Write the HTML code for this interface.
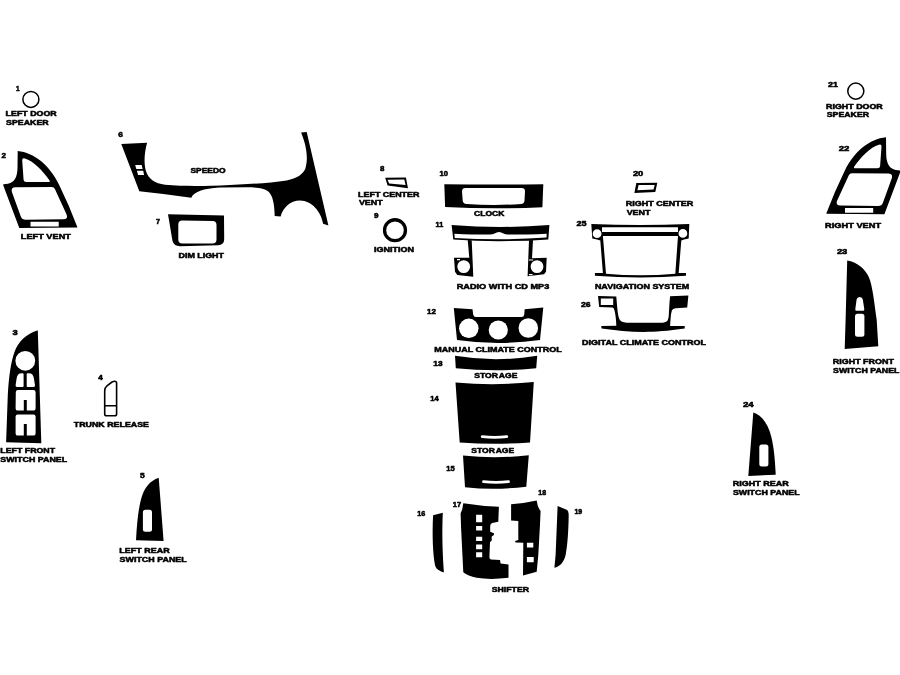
<!DOCTYPE html>
<html><head><meta charset="utf-8"><title>Dash Kit Diagram</title>
<style>
html,body{margin:0;padding:0;background:#fff;}
body{width:900px;height:675px;overflow:hidden;}
svg{display:block;will-change:transform;}
text{font-family:"Liberation Sans",sans-serif;font-weight:bold;fill:#000;stroke:#000;stroke-linejoin:round;}
.t{font-size:7.1px;stroke-width:0.5px;}
.n{font-size:8.1px;stroke-width:0.6px;}
.k{fill:#000;}
.w{fill:#fff;}
.o{fill:none;stroke:#000;}
</style></head><body>
<svg width="900" height="675" viewBox="0 0 900 675">
<rect width="900" height="675" fill="#fff"/>
<!-- 1 / 21 speakers -->
<circle cx="30.9" cy="99.4" r="8.0" class="o" stroke-width="1.5"/>
<circle cx="855.8" cy="91.1" r="8.05" class="o" stroke-width="1.5"/>

<!-- 2 left vent -->
<g id="vent">
<path class="k" fill-rule="evenodd" d="M17.7,151 C34,152.5 49.5,165 59.2,185 Q69,205 77.3,227 L77.3,227.5 L19.3,228 L3.3,185.5 L3.3,184.3 L8,183.7 Q17.3,182 17.5,168 L17.7,151 Z
M22.2,160.3 Q22.2,157.6 24.8,158.5 C33.5,161 42.5,170.5 49.6,180.5 Q50.4,182 48,182 L26.3,182 Q23.8,182 23.6,180 Z
M15.5,187.3 L51.8,187 Q54,187 55,189.2 L66.6,214.4 Q68.2,219 63.6,219.2 L25.6,219.7 Q22,219.7 20.8,216.5 L11.9,192 Q10.6,187.3 15.5,187.3 Z
M30.5,221.7 L58.7,221.7 L58.7,226.5 L30.5,226.5 Z"/>
</g>
<!-- 22 right vent (mirror) -->
<path class="k" transform="translate(903.7,-13.7) scale(-1,1)" fill-rule="evenodd" d="M17.7,151 C34,152.5 49.5,165 59.2,185 Q69,205 77.3,227 L77.3,227.5 L19.3,228 L3.3,185.5 L3.3,184.3 L8,183.7 Q17.3,182 17.5,168 L17.7,151 Z
M22.2,160.3 Q22.2,157.6 24.8,158.5 C33.5,161 42.5,170.5 49.6,180.5 Q50.4,182 48,182 L26.3,182 Q23.8,182 23.6,180 Z
M15.5,187.3 L51.8,187 Q54,187 55,189.2 L66.6,214.4 Q68.2,219 63.6,219.2 L25.6,219.7 Q22,219.7 20.8,216.5 L11.9,192 Q10.6,187.3 15.5,187.3 Z
M30.5,221.7 L58.7,221.7 L58.7,226.5 L30.5,226.5 Z"/>

<!-- 6 speedo -->
<path class="k" d="M121.3,144 L147.1,142.7 C144.5,152 143.5,163 146,171.3 C148.5,179 155,183.5 165,184.8 C185,186.5 205,186.2 230,185 C250,184.3 270,182.8 286.7,180.4 C297,178.5 303,174 305.3,168.7 C308,160 307.5,148 301.1,132.4 L306.7,132 L328.4,225.4 L323.1,223.7 C321,212 312,200.6 300,200.6 C290,200.6 283,208 280.6,216.6 L274.7,216.1 C274.5,205 273,195 268,191.3 C264,188.3 258,187.5 246.7,187.3 L220,187.6 C203,188.5 194,192 191.3,197.7 L163.3,194 L139.3,191.3 Z"/>
<path class="w" d="M135.2,165 L141.7,165 L142.6,169 L136.3,169 Z M136.9,170.8 L143.2,170.8 L144.1,175 L138.1,175 Z"/>

<!-- 7 dim light -->
<path class="k" fill-rule="evenodd" d="M168,214.2 L224,215.5 L224.2,239 Q224.2,245 218,245.3 L180,246.2 Q174,246.2 172.5,241 Z
M182.3,220.5 L212.5,221 Q216.5,221 216.5,225 L216.5,239.5 Q216.5,243.5 212.5,243.5 L182.3,243.5 Q178.3,243.5 178.3,239.5 L178.3,224.5 Q178.3,220.5 182.3,220.5 Z"/>

<!-- 3 left front switch panel -->
<path class="k" fill-rule="evenodd" d="M37.2,330.6 L37.8,330.6 L39.8,395 L41.3,443.3 L6.1,442.2 L7.8,395 C9,375 11,362 14.4,352.2 C18,342 26,334 37.2,330.6 Z
M35.2,360.8 A9.9,9.9 0 1 0 15.4,360.8 A9.9,9.9 0 1 0 35.2,360.8 Z
M17,387 Q15.4,387 15.6,385.3 L16.6,378.5 Q17.3,373.2 21.5,373.2 L22.6,373.2 Q23.6,373.2 23.6,374.2 L23.6,386 Q23.6,387 22.6,387 Z
M27.7,373.2 L29,373.2 Q33.2,373.2 33.9,378.5 L35,385.3 Q35.2,387 33.6,387 L27.7,387 Q26.7,387 26.7,386 L26.7,374.2 Q26.7,373.2 27.7,373.2 Z
M18,390.1 L33.4,390.1 Q35.6,390.1 35.6,392.3 L35.6,408.4 Q35.6,410.6 33.4,410.6 L26.8,410.6 L26.8,400 L23.8,400 L23.8,410.6 L17.8,410.6 Q15.6,410.6 15.6,408.4 L15.8,392.3 Q15.8,390.1 18,390.1 Z
M17.8,414.4 L33.4,414.4 Q35.6,414.4 35.6,416.6 L35.6,433.4 Q35.6,435.6 33.4,435.6 L26.8,435.6 L26.8,424 L23.8,424 L23.8,435.6 L17.8,435.6 Q15.6,435.6 15.6,433.4 L15.6,416.6 Q15.6,414.4 17.8,414.4 Z"/>

<!-- 4 trunk release -->
<path class="o" stroke-width="1.6" stroke-linejoin="round" d="M104.7,414 L104.7,391 Q104.7,387.5 107,385.8 L112,382 Q113.5,381.2 114.6,381.2 Q116.6,381.2 116.6,383.2 L116.6,414 Q116.6,415.8 114.8,415.8 L106.5,415.8 Q104.7,415.8 104.7,414 Z M104.7,405.8 L116.6,405.8"/>

<!-- 5 left rear switch panel -->
<path class="k" d="M158.7,477.7 L163.6,541 L136,540.3 C137,520 139,505 142,496 C145,487 150,481 158.7,477.7 Z"/>
<rect class="w" x="142.9" y="509.7" width="9.1" height="22" rx="2.5"/>

<!-- 24 right rear switch panel -->
<path class="k" d="M753.3,412.4 C762,415 768,424 771.3,436.7 C774,448 775,460 775.7,474.7 L748.3,476 Z"/>
<rect class="w" x="759.3" y="444.4" width="9.1" height="22" rx="2.5"/>

<!-- 8 / 20 center vents -->
<path class="k" fill-rule="evenodd" d="M385.2,177.8 L405.9,177.6 L408,188.2 L387.6,185.4 Z M387.5,179.8 L404.3,179.4 L405.6,185 L389.2,183.4 Z"/>
<path class="k" fill-rule="evenodd" d="M636.3,182.9 L657.3,182.7 L655.3,192 L634.4,193.1 Z M638.6,185.1 L654.7,184.9 L653.5,189.4 L637.4,190.2 Z"/>

<!-- 9 ignition -->
<circle cx="395" cy="230.2" r="10.45" class="o" stroke-width="3.3"/>

<!-- 10 clock -->
<path class="k" fill-rule="evenodd" d="M444.3,184.2 Q494,185 543.3,184.2 L542.4,207.2 Q494,209.4 445.1,207 Z
M465.5,188.1 L521.5,188.1 Q525.1,188.1 525,191.5 L524.5,200.5 Q524.3,203.7 521,204 Q494,205.8 466.5,204 Q463,203.7 462.7,200.5 L462,191.5 Q462,188.1 465.5,188.1 Z"/>

<!-- 11 radio -->
<path class="k" d="M451.6,225 Q500,228.9 549.4,225 L548.3,239.4 Q500,242.8 453.3,239.6 Z"/>
<path class="w" d="M454.4,233.7 Q475,234.7 490,234.6 Q493,234.5 494.5,233.4 Q499,230.4 503.5,233.4 Q505,234.5 508,234.6 Q525,234.7 546.7,233.7 L546.5,237.6 Q500,240.8 454.7,237.9 Z"/>
<path class="k" fill-rule="evenodd" d="M467.7,240 L471.7,240.2 L473.3,276.7 L457.3,275 L455,271.7 L454,257.7 L469.3,257.7 Z M470.1,266.6 A6.4,6.4 0 1 0 457.3,266.6 A6.4,6.4 0 1 0 470.1,266.6 Z"/>
<path class="k" fill-rule="evenodd" d="M533,240 L529,240.2 L527.6,276.3 L544,274.3 L546,271.7 L546.7,257.7 L532,258.3 Z M543.4,266.6 A6.4,6.4 0 1 0 530.6,266.6 A6.4,6.4 0 1 0 543.4,266.6 Z"/>

<path class="w" d="M457,259H460V260.3H457Z M528.9,259.4H533.2V260.6H528.9Z M528.9,274H532.5V275.2H528.9Z"/>
<!-- 12 manual climate -->
<path class="k" d="M453.8,308 L472.5,309.2 L473.2,314.5 Q473.5,317 476,317 L521.5,317 Q524,317 524.2,314.5 L524.7,309.2 L543.3,307.5 L540,340 Q498.3,346 457,340 Z"/>
<circle class="w" cx="468.8" cy="328.3" r="9.75"/>
<circle class="w" cx="498.3" cy="330" r="9.6"/>
<circle class="w" cx="528.3" cy="328" r="9.75"/>

<!-- 13 -->
<path class="k" d="M455,355.8 Q495.8,362.6 537.2,355.8 L536.2,368.3 Q495.8,372.3 455.8,368.3 Z"/>
<!-- 14 -->
<path class="k" d="M455.5,382.5 Q495,386 533.8,382 L530,442.5 Q495,445 459.7,442.5 Z"/>
<path d="M482.2,436.7 Q494.5,438.1 506.8,436.7" fill="none" stroke="#fff" stroke-width="2.8" stroke-linecap="round"/>
<!-- 15 -->
<path class="k" d="M463,455.5 Q495,459 528.8,455.3 L526.3,486.7 Q495,490.5 465,487.2 Z"/>
<path d="M483.5,481.7 Q496,483.1 508.5,481.7" fill="none" stroke="#fff" stroke-width="2.8" stroke-linecap="round"/>

<!-- 16 -->
<path class="k" d="M433.1,515.2 L442.8,512.8 C442,530 442.3,550 443.9,572.2 L443.3,572.2 C439,570.8 435.8,569 435,565 C433,555 432,535 433.1,515.2 Z"/>
<!-- 17 -->
<path class="k" d="M463.3,503.3 Q482,506.3 498.9,506.7 L498.3,521.7 L492.2,523 Q490.3,523.5 490.2,526 L490.2,531.7 L493.9,533.3 L493.9,535 L491.7,536.5 L491.7,540.6 L490,542.2 L489.4,557.2 Q489.5,559.3 491,559.5 L500,560 L500.6,563.5 L508.5,564.4 L508.5,577.8 Q490,580 476.7,577.8 Q467.8,576 463.3,572.2 L461.1,528.3 L460.6,513.3 L462.2,509.4 Z"/>
<path class="w" d="M476.1,514.8H482.2V522.2H476.1Z M476.1,525.9H482.2V530.6H476.1Z M476.1,536.7H482.2V541.1H476.1Z M476.1,544.4H482.2V549.2H476.1Z M476.1,552.2H482.2V557.2H476.1Z"/>
<!-- 18 -->
<path class="k" d="M511.1,504.2 Q524.4,503.5 536.7,500.6 Q537.3,507 540.6,511.1 L540,524.4 L538.3,555 L536.7,571.7 L523,575.6 L523.3,542.8 L515.6,542.4 L515,541.1 L518.3,540 L518.3,520.9 L511.1,520.6 Z"/>
<path class="w" d="M526.9,542.8H533.3V547.6H526.9Z M526.9,556.9H533.7V562.2H526.9Z"/>
<!-- 19 -->
<path class="k" d="M557.6,506.1 L566.7,509.8 Q568.7,511 568.7,515.6 C568.5,530 567.5,545 566.1,551.7 C565.5,559 562,566 554.4,567.8 L555.6,555 Z"/>

<!-- 25 navigation -->
<path class="k" fill-rule="evenodd" d="M591.3,224.1 Q640,225.8 689.3,224.1 L688.7,238.5 L684,239.5 L681.3,240.5 L678.7,273 L686,273 L686,275.7 Q640,279.2 594.9,275.7 L594.9,273 L602.9,273 L600.3,240.5 L597,239.5 L592.3,238.5 Z
M602.9,236.1 L678,236.1 L675.3,273.7 Q640,276.8 606,273.7 Z
M602,227.3 L678,227.3 L678,232.1 L602,232.1 Z
M601.5,233.7 A4.4,4.4 0 1 0 592.7,233.7 A4.4,4.4 0 1 0 601.5,233.7 Z
M687.3,233.4 A4.4,4.4 0 1 0 678.5,233.4 A4.4,4.4 0 1 0 687.3,233.4 Z"/>

<!-- 26 digital climate -->
<path class="k" fill-rule="evenodd" d="M598,296 L616.3,296.6 L617.1,306.3 Q617.8,314 618.7,317.3 Q619.8,321.6 624,322.3 Q626,322.8 630,322.8 L660,322.8 Q666,322.8 667.6,320.4 Q668.9,318 668.9,312.4 L669.5,302.7 L670.1,296.3 L688.4,295.6 L687.2,307.6 L675.6,308.2 Q672.5,308.5 671.9,310.6 Q670.7,314 670.1,325.9 L684.7,325.9 L684.7,328.6 C668,331 655,332 643.8,332 C630,332 615,330.5 601.6,328.6 L601.2,326.1 L616.3,325.7 Q616,316 614.4,310 Q613.8,307.8 612.6,307.6 L599.2,307 Z
M600.8,298.4 L613.2,298.4 L613.2,305.1 L600.8,305.1 Z"/>

<!-- 23 right front switch panel -->
<path class="k" fill-rule="evenodd" d="M847.2,260.6 C857,262 865,269 868.9,277.2 C872.5,286 874,300 876.7,320 L878.3,346.3 L844.7,348.9 L845.6,320 Z
M855.3,309.3 L856.6,299.5 Q857,297 859.7,297 Q862.4,297 862.8,299.5 L864.3,309.3 Q864.5,310.8 863,310.8 L856.6,310.8 Q855.1,310.8 855.3,309.3 Z"/>
<rect class="w" x="855" y="313.7" width="9.4" height="23" rx="2.5"/>

<g>
<text class="n" x="16" y="91.0" textLength="3.6" lengthAdjust="spacingAndGlyphs">1</text>
<text class="t" x="5.6" y="116.45" textLength="51.1" lengthAdjust="spacingAndGlyphs">LEFT DOOR</text>
<text class="t" x="6" y="124.85" textLength="42.7" lengthAdjust="spacingAndGlyphs">SPEAKER</text>
<text class="n" x="1.6" y="158.4" textLength="4.4" lengthAdjust="spacingAndGlyphs">2</text>
<text class="t" x="20.8" y="238.95" textLength="50.1" lengthAdjust="spacingAndGlyphs">LEFT VENT</text>
<text class="n" x="118.3" y="137.0" textLength="4.7" lengthAdjust="spacingAndGlyphs">6</text>
<text class="t" x="190.4" y="173.15" textLength="35.3" lengthAdjust="spacingAndGlyphs">SPEEDO</text>
<text class="n" x="156" y="223.7" textLength="4.0" lengthAdjust="spacingAndGlyphs">7</text>
<text class="t" x="178.5" y="258.25" textLength="45.5" lengthAdjust="spacingAndGlyphs">DIM LIGHT</text>
<text class="n" x="12.4" y="334.7" textLength="5.2" lengthAdjust="spacingAndGlyphs">3</text>
<text class="t" x="0.3" y="452.85" textLength="54.8" lengthAdjust="spacingAndGlyphs">LEFT FRONT</text>
<text class="t" x="0.3" y="461.85" textLength="66.9" lengthAdjust="spacingAndGlyphs">SWITCH PANEL</text>
<text class="n" x="98.3" y="379.7" textLength="4.5" lengthAdjust="spacingAndGlyphs">4</text>
<text class="t" x="73.8" y="426.85" textLength="75.2" lengthAdjust="spacingAndGlyphs">TRUNK RELEASE</text>
<text class="n" x="140" y="477.9" textLength="4.7" lengthAdjust="spacingAndGlyphs">5</text>
<text class="t" x="119.3" y="552.85" textLength="50.4" lengthAdjust="spacingAndGlyphs">LEFT REAR</text>
<text class="t" x="119.6" y="561.55" textLength="67.1" lengthAdjust="spacingAndGlyphs">SWITCH PANEL</text>
<text class="n" x="380" y="170.7" textLength="4.4" lengthAdjust="spacingAndGlyphs">8</text>
<text class="t" x="358.1" y="196.85" textLength="61.3" lengthAdjust="spacingAndGlyphs">LEFT CENTER</text>
<text class="t" x="358.9" y="205.05" textLength="23.9" lengthAdjust="spacingAndGlyphs">VENT</text>
<text class="n" x="374.1" y="218.2" textLength="4.5" lengthAdjust="spacingAndGlyphs">9</text>
<text class="t" x="374.1" y="252.45" textLength="40.0" lengthAdjust="spacingAndGlyphs">IGNITION</text>
<text class="n" x="439.5" y="176.1" textLength="8.4" lengthAdjust="spacingAndGlyphs">10</text>
<text class="t" x="474" y="215.85" textLength="30.4" lengthAdjust="spacingAndGlyphs">CLOCK</text>
<text class="n" x="435.5" y="226.8" textLength="7.7" lengthAdjust="spacingAndGlyphs">11</text>
<text class="t" x="456.7" y="289.25" textLength="92.6" lengthAdjust="spacingAndGlyphs">RADIO WITH CD MP3</text>
<text class="n" x="427" y="313.5" textLength="8.8" lengthAdjust="spacingAndGlyphs">12</text>
<text class="t" x="434.2" y="352.35" textLength="127.5" lengthAdjust="spacingAndGlyphs">MANUAL CLIMATE CONTROL</text>
<text class="n" x="433.3" y="365.9" textLength="9.2" lengthAdjust="spacingAndGlyphs">13</text>
<text class="t" x="474.2" y="378.15" dx="0 0 0 0 0.6 0 0" textLength="43.3" lengthAdjust="spacingAndGlyphs">STORAGE</text>
<text class="n" x="430.3" y="400.5" textLength="8.4" lengthAdjust="spacingAndGlyphs">14</text>
<text class="t" x="471.3" y="452.85" dx="0 0 0 0 0.6 0 0" textLength="42.9" lengthAdjust="spacingAndGlyphs">STORAGE</text>
<text class="n" x="446.3" y="470.9" textLength="8.4" lengthAdjust="spacingAndGlyphs">15</text>
<text class="n" x="417.2" y="515.7" textLength="8.1" lengthAdjust="spacingAndGlyphs">16</text>
<text class="n" x="452.8" y="507.2" textLength="8.3" lengthAdjust="spacingAndGlyphs">17</text>
<text class="n" x="538.3" y="495.3" textLength="7.8" lengthAdjust="spacingAndGlyphs">18</text>
<text class="n" x="574.4" y="513.9" textLength="7.8" lengthAdjust="spacingAndGlyphs">19</text>
<text class="t" x="491.7" y="592.15" textLength="37.4" lengthAdjust="spacingAndGlyphs">SHIFTER</text>
<text class="n" x="632.9" y="176.4" textLength="10.4" lengthAdjust="spacingAndGlyphs">20</text>
<text class="t" x="625.7" y="205.95" textLength="67.6" lengthAdjust="spacingAndGlyphs">RIGHT CENTER</text>
<text class="t" x="626.7" y="214.55" textLength="23.7" lengthAdjust="spacingAndGlyphs">VENT</text>
<text class="n" x="576.5" y="225.5" textLength="10.0" lengthAdjust="spacingAndGlyphs">25</text>
<text class="t" x="594.9" y="289.25" textLength="94.4" lengthAdjust="spacingAndGlyphs">NAVIGATION SYSTEM</text>
<text class="n" x="580.9" y="307.4" textLength="9.6" lengthAdjust="spacingAndGlyphs">26</text>
<text class="t" x="582.1" y="345.25" textLength="124.0" lengthAdjust="spacingAndGlyphs">DIGITAL CLIMATE CONTROL</text>
<text class="n" x="828" y="86.6" textLength="9.8" lengthAdjust="spacingAndGlyphs">21</text>
<text class="t" x="826.1" y="108.75" textLength="56.7" lengthAdjust="spacingAndGlyphs">RIGHT DOOR</text>
<text class="t" x="826.7" y="117.45" textLength="42.4" lengthAdjust="spacingAndGlyphs">SPEAKER</text>
<text class="n" x="838.7" y="151.0" textLength="10.6" lengthAdjust="spacingAndGlyphs">22</text>
<text class="t" x="825" y="228.45" textLength="56.1" lengthAdjust="spacingAndGlyphs">RIGHT VENT</text>
<text class="n" x="836.9" y="254.1" textLength="10.3" lengthAdjust="spacingAndGlyphs">23</text>
<text class="t" x="832.8" y="364.25" textLength="61.1" lengthAdjust="spacingAndGlyphs">RIGHT FRONT</text>
<text class="t" x="833.1" y="372.85" textLength="66.3" lengthAdjust="spacingAndGlyphs">SWITCH PANEL</text>
<text class="n" x="742.9" y="406.8" textLength="10.7" lengthAdjust="spacingAndGlyphs">24</text>
<text class="t" x="732.7" y="486.25" textLength="56.2" lengthAdjust="spacingAndGlyphs">RIGHT REAR</text>
<text class="t" x="732.9" y="494.75" textLength="66.7" lengthAdjust="spacingAndGlyphs">SWITCH PANEL</text>
</g>
</svg>
</body></html>
